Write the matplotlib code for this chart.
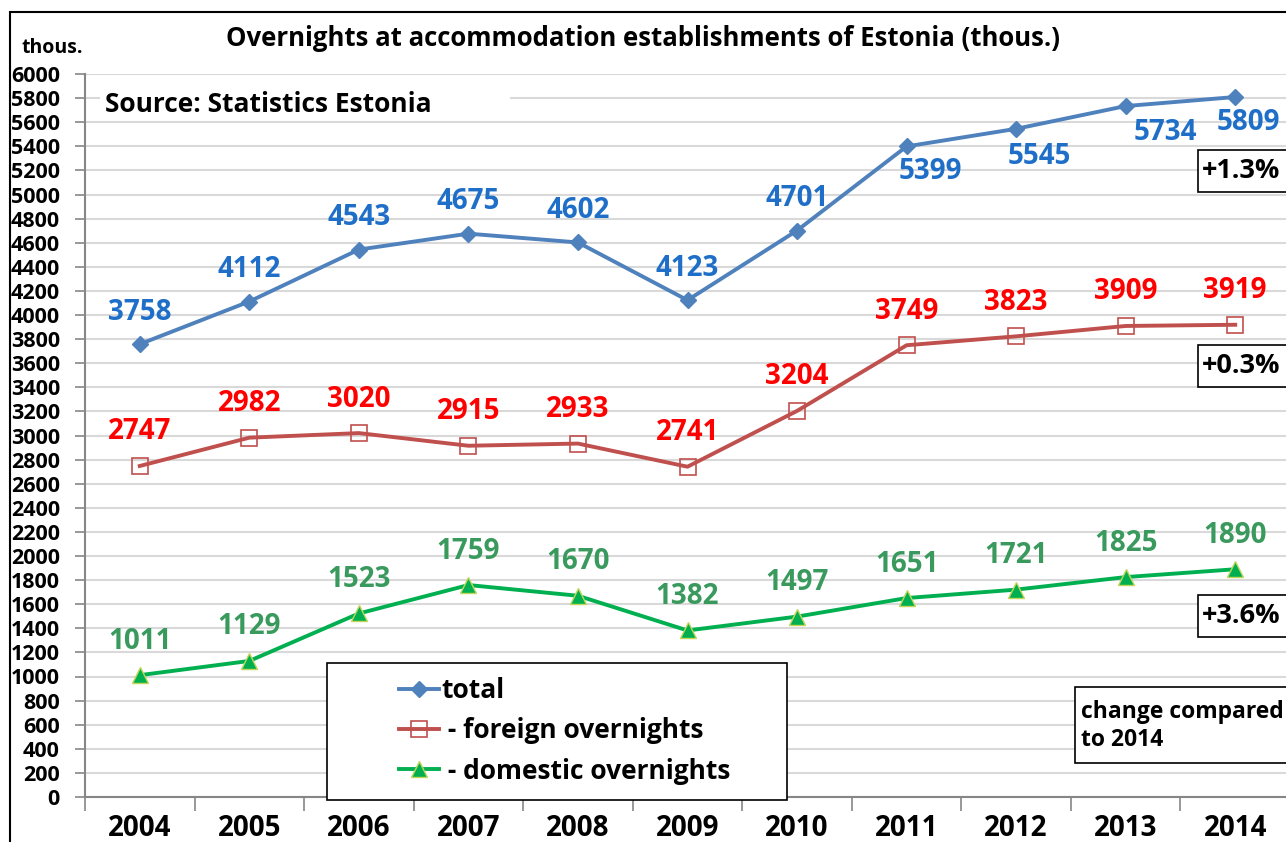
import numpy as np
import matplotlib.pyplot as plt
from matplotlib.patches import Rectangle

plt.rcParams['font.family'] = ['Open Sans', 'DejaVu Sans']
plt.rcParams['font.weight'] = 'bold'

# dados do gráfico
years = ["2004", "2005", "2006", "2007", "2008", "2009", "2010", "2011", "2012", "2013", "2014"]
total = [3758, 4112, 4543, 4675, 4602, 4123, 4701, 5399, 5545, 5734, 5809]
foreign = [2747, 2982, 3020, 2915, 2933, 2741, 3204, 3749, 3823, 3909, 3919]
domestic = [1011, 1129, 1523, 1759, 1670, 1382, 1497, 1651, 1721, 1825, 1890]
changes = ["+1.3%", "+0.3%", "+3.6%"]

x = np.arange(len(years))

fig = plt.figure(figsize=(12.86, 8.42), dpi=100)
ax = fig.add_axes([85/1286, 1 - 797/842, 1205/1286, (797 - 74)/842])

ax.plot(x, total, color="#4F81BD", lw=2.8, marker="D", ms=8, mfc="#4F81BD", mec="#4F81BD",
        label="total", zorder=3)
ax.plot(x, foreign, color="#C0504D", lw=2.8, marker="s", ms=12, mfc="none", mec="#C0504D",
        mew=1.2, label=" - foreign overnights", zorder=3)
ax.plot(x, domestic, color="#00B050", lw=2.8, marker="^", ms=11, mfc="#00B050", mec="#C4D65A",
        mew=1.0, label=" - domestic overnights", zorder=3)

# rótulos dos valores (os últimos do total ficam abaixo e à direita)
below = {7: (24, -25), 8: (23, -28), 9: (40, -26), 10: (13, -25)}
for i, v in enumerate(total):
    off = below.get(i, (0, 32))
    ax.annotate(str(v), (x[i], v), xytext=off, textcoords="offset pixels", ha="center", va="center",
                fontsize=20, fontweight="bold", color="#1F6FC8")
for i, v in enumerate(foreign):
    ax.annotate(str(v), (x[i], v), xytext=(0, 34), textcoords="offset pixels", ha="center", va="center",
                fontsize=20, fontweight="bold", color="#FF0000")
for i, v in enumerate(domestic):
    ax.annotate(str(v), (x[i], v), xytext=(0, 34), textcoords="offset pixels", ha="center", va="center",
                fontsize=20, fontweight="bold", color="#3A9A5E")

ax.set_xlim(-0.5, 10.5)
ax.set_ylim(0, 6000)
ax.set_yticks(np.arange(0, 6001, 200))
ax.set_yticklabels([str(t) for t in range(0, 6001, 200)], fontsize=15.5, fontweight="bold")
ax.set_xticks(x)
ax.set_xticklabels(years, fontsize=20, fontweight="bold")
ax.set_xticks(np.arange(-0.5, 11, 1), minor=True)
ax.tick_params(axis="x", which="major", length=0, pad=12)
ax.tick_params(axis="x", which="minor", length=10, color="#868686", width=1.2)
ax.tick_params(axis="y", length=7, color="#868686", width=1.2, pad=11)

ax.grid(True, axis="y", color="#D9D9D9", lw=1.5)
ax.set_axisbelow(True)
for s in ["top", "right"]:
    ax.spines[s].set_visible(False)
ax.spines["left"].set_color("#868686")
ax.spines["bottom"].set_color("#868686")
ax.spines["left"].set_linewidth(1.5)
ax.spines["bottom"].set_linewidth(1.5)

# legenda
ax.add_patch(Rectangle((327/1286, 1 - 800/842), 460/1286, 137/842, transform=fig.transFigure,
                       fc="white", ec="black", lw=1.2, zorder=4, clip_on=False))
leg = ax.legend(loc="upper left", bbox_to_anchor=(386/1286, 1 - 664/842),
                bbox_transform=fig.transFigure, frameon=False, handlelength=1.5,
                handletextpad=0.1, borderpad=0, labelspacing=0.5,
                prop={"weight": "bold", "size": 19})
leg.set_zorder(5)

# textos
fig.text(0.5, 1 - 38/842, "Overnights at accommodation establishments of Estonia (thous.)",
         ha="center", va="center", fontsize=18.5, fontweight="bold")
fig.text(22/1286, 1 - 48/842, "thous.", ha="left", va="center", fontsize=14, fontweight="bold")
fig.patches.append(Rectangle((100/1286, 1 - 113/842), 410/1286, 26/842, transform=fig.transFigure,
                             fc="white", ec="none", zorder=1))
fig.text(105/1286, 1 - 104/842, "Source: Statistics Estonia", ha="left", va="center",
         fontsize=19, fontweight="bold", zorder=2)

for lab, ytop in zip(changes, [150, 345, 595]):
    fig.text(1202/1286, 1 - (ytop + 21)/842, lab, ha="left", va="center", fontsize=19.5,
             fontweight="bold", zorder=5)
    fig.patches.append(Rectangle((1198/1286, 1 - (ytop + 42)/842), 100/1286, 42/842,
                                 transform=fig.transFigure, fc="white", ec="black", lw=1.2, zorder=4))

fig.patches.append(Rectangle((1075/1286, 1 - 763/842), 230/1286, 76/842, transform=fig.transFigure,
                             fc="white", ec="black", lw=1.2, zorder=4))
fig.text(1081/1286, 1 - 726/842, "change compared\nto 2014", ha="left", va="center", fontsize=16.5,
         fontweight="bold", linespacing=1.2, zorder=5)

# borda externa
fig.patches.append(Rectangle((10/1286, -0.1), 1.2, 1.1 - 12/842, transform=fig.transFigure,
                             fc="none", ec="black", lw=1.5, zorder=6))

plt.savefig("out.png", dpi=100)
